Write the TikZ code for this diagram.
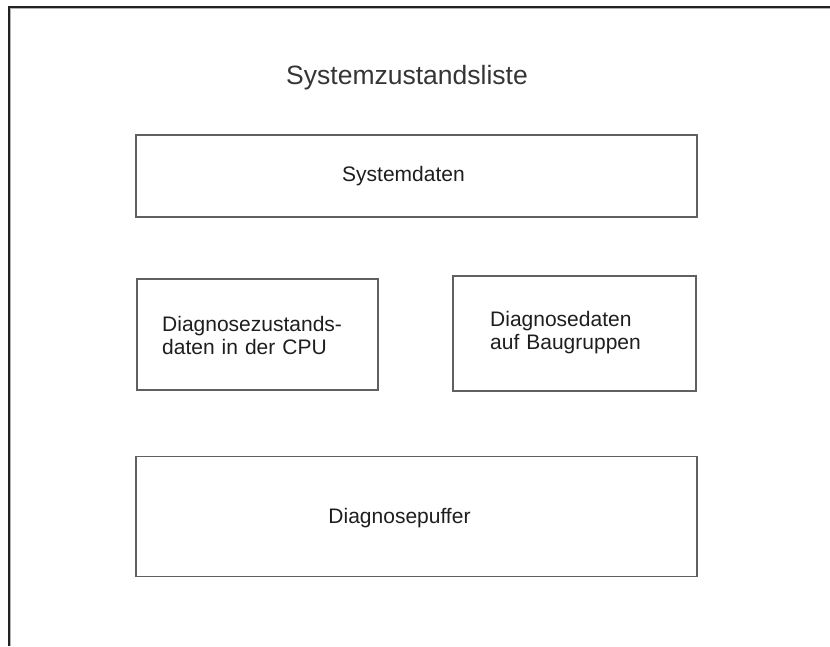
\documentclass[tikz,border=0pt]{standalone}
\usepackage{fontspec}
\setmainfont{Liberation Sans}
\definecolor{framecol}{HTML}{222222}
\definecolor{boxcol}{HTML}{606060}
\definecolor{txtcol}{HTML}{1E1E1E}
\begin{document}
\begin{tikzpicture}[x=1pt,y=-1pt,
  box/.style={draw=boxcol, line width=1.6pt, inner sep=0pt, fill=none},
  lbl/.style={text=txtcol, inner sep=0pt, font=\fontsize{21}{22.5}\selectfont},
  mlbl/.style={lbl, text width=220pt, align=left, anchor=base west},
  ttl/.style={text=txtcol!90, inner sep=0pt, font=\fontsize{26.5}{28}\selectfont}]
\useasboundingbox (0,0) rectangle (830,646);
\fill[white] (0,0) rectangle (830,646);
% outer frame (only left and top edges visible)
\coordinate (fbl) at (9,646);
\coordinate (ftl) at (9,7);
\coordinate (ftr) at (830,7);
\draw[framecol, line width=2pt] (fbl) -- (ftl) -- (ftr);
\draw[gray!60, line width=0.8pt] (10.8,646) -- (10.8,8.8) -- (830,8.8);
% title
\node[ttl, anchor=base] (title) at (407,84.5) {Systemzustandsliste};
% boxes
\node[box, minimum width=561pt, minimum height=82pt] (sys) at (416.5,176) {};
\node[box, minimum width=241pt, minimum height=111pt] (cpu) at (257.5,334.5) {};
\node[box, minimum width=243pt, minimum height=115pt] (bg) at (574.5,333.5) {};
\node[box, minimum width=561pt, minimum height=120pt] (puf) at (416.5,516.5) {};
% labels
\node[lbl, anchor=base] (systxt) at (403.5,181) {Systemdaten};
\node[mlbl] (cputxt) at (162,331.5) {Diagnosezustands-\\daten in der CPU};
\node[mlbl] (bgtxt) at (490,326.5) {Diagnosedaten\\auf Baugruppen};
\node[lbl, anchor=base] (puftxt) at (399.5,523.5) {Diagnosepuffer};
\end{tikzpicture}
\end{document}
